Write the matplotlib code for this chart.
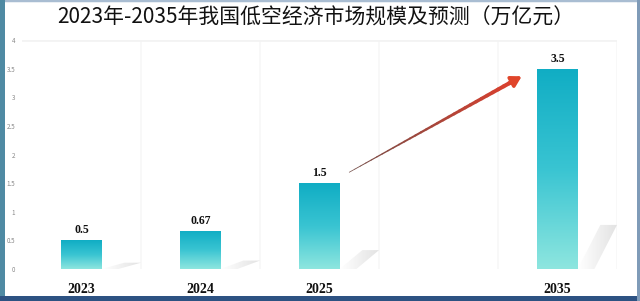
import numpy as np
import matplotlib
matplotlib.use("Agg")
import matplotlib.pyplot as plt
from matplotlib.patches import Rectangle, Polygon
from matplotlib.collections import LineCollection
from matplotlib.colors import LinearSegmentedColormap

plt.rcParams['font.family'] = ['Noto Sans CJK SC', 'DejaVu Sans']

title = "2023年-2035年我国低空经济市场规模及预测（万亿元）"
categories = ["2023", "2024", "2025", "", "2035"]
values = [0.5, 0.67, 1.5, None, 3.5]
value_labels = ["0.5", "0.67", "1.5", "", "3.5"]
y_ticks = [0, 0.5, 1, 1.5, 2, 2.5, 3, 3.5, 4]

fig = plt.figure(figsize=(6.4, 3.01), dpi=100)
fig.patch.set_facecolor("white")
ax = fig.add_axes([22/640, 32/301, 595/640, 229/301])
ax.set_xlim(-0.5, len(categories) - 0.5)
ax.set_ylim(0, 4)

bar_w = 0.34
cmap = LinearSegmentedColormap.from_list("bar", ["#8ee6df", "#39c4d2", "#10adc4"])
grad = np.linspace(0, 1, 256).reshape(-1, 1)
shade_cmap = LinearSegmentedColormap.from_list("sh", ["#ffffff", "#e2e2e2"])
shade_grad = np.linspace(0, 1, 64).reshape(1, -1)

for i, (cat, v, lab) in enumerate(zip(categories, values, value_labels)):
    if v is None:
        continue
    left = i - bar_w / 2
    right = i + bar_w / 2
    # shadow
    sh = 0.22 * v
    shadow = Polygon([(right, 0), (right + 0.14, 0), (right + 0.33, sh), (right + 0.19, sh)],
                     closed=True, facecolor="none", edgecolor="none", zorder=1)
    ax.add_patch(shadow)
    sim = ax.imshow(shade_grad, cmap=shade_cmap, extent=[right, right + 0.33, 0, sh],
                    origin="lower", aspect="auto", zorder=1)
    sim.set_clip_path(shadow)
    rect = Rectangle((left, 0), bar_w, v, facecolor="none", edgecolor="none", zorder=2)
    ax.add_patch(rect)
    im = ax.imshow(grad, cmap=cmap, extent=[left, right, 0, v], origin="lower",
                   aspect="auto", zorder=2)
    im.set_clip_path(rect)
    ax.text(i, v + 0.07, lab, ha="center", va="bottom", fontsize=8.5,
            fontweight="bold", family="Liberation Serif", color="#111111", zorder=4)

ax.set_xlim(-0.5, len(categories) - 0.5)
ax.set_ylim(0, 4)

# faint vertical separators
for b in np.arange(0.5, len(categories) - 0.5, 1.0):
    ax.axvline(b, color="#f7f7f7", lw=1.2, zorder=0)
ax.axvline(len(categories) - 0.5, color="#f7f7f7", lw=1.2, zorder=0)
ax.axhline(4, color="#f3f3f3", lw=2, zorder=0)

# arrow from 2025 bar toward 2035 bar
i0, i1 = 2, 4
x0, y0 = i0 + 0.25, values[i0] + 0.19
x1, y1 = i1 - 0.28, values[i1] - 0.11
n = 30
xs = np.linspace(x0, x1 - 0.08, n + 1)
ys = np.linspace(y0, y1 - 0.08 * (y1 - y0) / (x1 - x0), n + 1)
segs = [[(xs[k], ys[k]), (xs[k + 1], ys[k + 1])] for k in range(n)]
cols = [(0.45 + 0.42 * k / n, 0.3 - 0.05 * k / n, 0.28 - 0.1 * k / n) for k in range(n)]
lc = LineCollection(segs, linewidths=np.linspace(0.5, 3.0, n), colors=cols, zorder=3,
                    capstyle="round")
ax.add_collection(lc)
ax.annotate("", xy=(x1, y1), xytext=(x1 - 0.12, y1 - 0.12 * (y1 - y0) / (x1 - x0)),
            arrowprops=dict(arrowstyle="-|>,head_length=0.6,head_width=0.35",
                            color="#e0452a", lw=2.5), zorder=3)

ax.set_xticks(range(len(categories)))
ax.set_xticklabels(categories, fontsize=10, fontweight="bold", family="Liberation Serif",
                   color="#111111")
ax.tick_params(axis="x", length=0, pad=10)
ax.set_yticks(y_ticks)
ax.set_yticklabels([f"{t:g}" for t in y_ticks], fontsize=4.5, color="#888888")
ax.tick_params(axis="y", length=0, pad=5)
for s in ax.spines.values():
    s.set_visible(False)

fig.text(316/640, 1 - 18/301, title, ha="center", va="center", fontsize=15, color="#111111")

# outer frame
fig.patches.append(Rectangle((0, 0), 1, 1, transform=fig.transFigure, fill=False,
                             edgecolor="#a9bdd2", lw=2.5))
fig.patches.append(Rectangle((0, 0), 5/640, 1, transform=fig.transFigure,
                             facecolor="#4f8aa3", edgecolor="none"))
fig.patches.append(Rectangle((0, 0), 1, 5/301, transform=fig.transFigure,
                             facecolor="#2d5282", edgecolor="none"))
fig.patches.append(Rectangle((1 - 3/640, 0), 3/640, 1, transform=fig.transFigure,
                             facecolor="#7f9bb8", edgecolor="none"))

fig.savefig("out.png", dpi=100)
